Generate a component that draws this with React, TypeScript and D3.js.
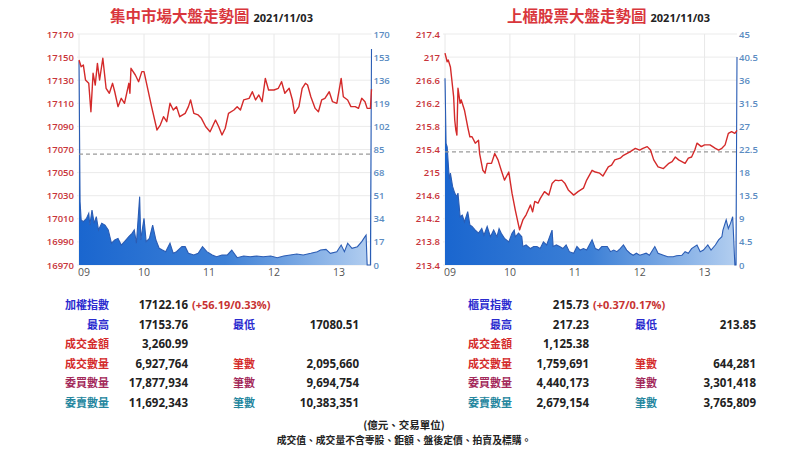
import React from 'react';
import * as d3 from 'd3';

// ---------- shared ----------
const timeTicks = [0, 60, 120, 180, 240];
const timeTickLabels = ['09', '10', '11', '12', '13'];

// ---------- TWSE (集中市場) ----------
const twsePriceMin = [0,2,4,6,9,11,13,15,17,19,22,25,28,31,33,36,39,42,46,47,48,52,55,58,60,63,67,72,75,78,81,84,87,90,93,98,101,103,106,110,113,117,121,126,129,132,135,138,143,146,149,152,157,160,163,166,169,172,175,180,184,187,190,194,197,199,203,206,209,211,214,218,221,224,227,231,234,238,242,244,248,251,255,258,261,264,266,269,270];
const twsePrice = [17147.5,17141.7,17143.2,17130.2,17127.3,17102.7,17136.0,17125.8,17144.6,17130.2,17149.0,17123.0,17118.7,17127.3,17120.0,17107.1,17114.3,17110.0,17127.3,17118.7,17140.3,17134.5,17128.7,17137.4,17137.4,17124.4,17107.1,17086.9,17091.2,17098.4,17094.1,17110.0,17104.2,17107.1,17098.4,17101.3,17107.1,17112.9,17101.3,17099.9,17097.0,17089.7,17085.4,17095.5,17089.7,17082.6,17088.4,17101.3,17104.2,17107.1,17104.2,17112.9,17114.3,17120.0,17112.9,17117.2,17111.4,17131.6,17121.5,17121.5,17123.0,17128.7,17118.7,17123.0,17112.9,17101.3,17107.1,17123.0,17127.3,17125.8,17115.7,17105.6,17102.7,17112.9,17114.3,17120.0,17111.4,17110.0,17131.6,17115.7,17112.9,17107.1,17107.1,17105.6,17114.3,17111.4,17105.6,17105.6,17122.2];
const twseVolMin = [0,1,2,4,7,9,10,12,14,16,18,21,24,27,30,33,36,39,42,46,49,51,53,56,57,60,62,65,68,71,74,77,80,84,87,90,95,98,101,106,110,114,118,123,127,132,137,141,146,152,158,164,170,177,183,189,195,201,207,214,220,223,228,232,238,242,245,248,252,257,261,264,265,266,269,270];
const twseVol = [150,46.6,33.1,31.9,34.4,38.0,29.4,40.5,30.7,35.6,25.8,30.7,29.4,25.8,16.0,18.4,19.6,14.7,17.2,20.9,23.3,25.8,16.0,50.3,18.4,34.4,17.2,19.6,29.4,18.4,12.3,11.0,9.8,16.0,8.6,9.8,13.5,13.5,8.6,7.4,8.6,13.5,9.8,7.4,6.1,7.4,7.4,11.0,5.4,6.6,6.1,6.6,6.1,6.6,5.4,6.6,7.4,8.1,7.4,8.6,9.8,11.0,11.5,8.6,9.8,14.7,9.8,16.0,12.3,13.5,17.2,20.9,22.0,0,0,159];
const twsePriceTicks = [16970,16990,17010,17030,17050,17070,17090,17110,17130,17150,17170];
const twseVolTicks = [0,17,34,51,68,85,102,119,136,153,170];
const twsePrevClose = 17065.97;

// ---------- TPEx (上櫃) ----------
const tpexPriceMin = [0,2,3,5,6,8,9,10,11,12,14,15,17,18,21,23,25,28,31,32,35,37,39,43,46,49,52,55,59,62,65,68,69,72,75,79,81,83,86,88,92,96,99,102,105,108,111,114,119,123,128,131,136,139,143,146,151,154,157,162,165,168,171,176,180,183,187,190,193,197,202,207,210,213,216,219,222,225,228,231,233,237,240,245,250,253,256,259,262,265,268,270];
const tpexPrice = [217.07,216.92,216.95,216.83,216.66,216.31,215.91,215.74,215.65,216.46,216.20,216.26,216.14,216.08,215.79,215.62,215.62,215.51,215.56,215.33,215.04,214.99,215.16,215.16,215.33,215.22,215.04,214.87,215.01,214.64,214.35,214.09,214.01,214.18,214.27,214.44,214.32,214.50,214.47,214.55,214.67,214.61,214.81,214.87,214.86,214.87,214.81,214.70,214.61,214.67,214.73,214.87,215.04,215.01,214.99,214.94,215.10,215.13,215.22,215.25,215.30,215.33,215.36,215.42,215.39,215.42,215.45,215.39,215.22,215.10,215.07,215.16,215.19,215.27,215.22,215.19,215.16,215.25,215.27,215.39,215.51,215.45,215.48,215.48,215.42,215.39,215.42,215.48,215.68,215.71,215.68,215.73];
const tpexVolMin = [0,1,2,4,5,7,9,11,12,14,16,18,21,23,25,28,31,34,36,39,42,45,48,50,52,55,59,62,64,65,68,71,72,75,79,82,85,88,91,94,99,100,103,106,109,112,115,119,122,125,128,131,136,139,142,145,150,153,156,159,162,165,168,171,174,177,180,183,186,189,194,197,202,206,211,214,219,222,225,228,233,236,239,243,246,250,253,256,257,260,262,264,266,267,268,269,270];
const tpexVol = [36.4,23.7,23.0,16.6,17.9,15.3,14.0,13.3,14.0,9.4,9.7,8.4,10.4,7.8,7.5,6.8,6.2,7.1,5.8,7.5,5.5,6.8,5.5,7.1,6.2,5.2,4.5,6.2,6.8,5.5,6.2,5.5,3.6,3.9,3.2,3.6,3.6,3.2,4.5,3.9,6.8,3.6,3.9,3.6,3.2,3.9,2.6,2.3,3.6,2.9,3.2,2.9,4.9,3.2,2.9,3.6,3.6,2.6,2.9,2.6,3.2,3.9,2.9,2.3,1.9,2.3,1.9,2.1,2.3,1.9,3.6,2.3,1.9,1.6,1.6,1.8,1.9,2.6,2.3,3.2,3.9,2.6,2.9,3.9,2.9,3.9,4.9,5.5,6.8,8.8,7.1,8.1,9.4,4.9,0,0,40.5];
const tpexPriceTicks = [213.4,213.8,214.2,214.6,215,215.4,215.8,216.2,216.6,217,217.4];
const tpexVolTicks = [0,4.5,9,13.5,18,22.5,27,31.5,36,40.5,45];
const tpexPrevClose = 215.36;

// ---------- tables ----------
const twseLabels1 = ['加權指數', '最高', '成交金額', '成交數量', '委買數量', '委賣數量'];
const twseValues1 = ['17122.16', '17153.76', '3,260.99', '6,927,764', '17,877,934', '11,692,343'];
const twseLabels2 = ['', '最低', '', '筆數', '筆數', '筆數'];
const twseValues2 = ['', '17080.51', '', '2,095,660', '9,694,754', '10,383,351'];
const twseChange = '(+56.19/0.33%)';

const tpexLabels1 = ['櫃買指數', '最高', '成交金額', '成交數量', '委買數量', '委賣數量'];
const tpexValues1 = ['215.73', '217.23', '1,125.38', '1,759,691', '4,440,173', '2,679,154'];
const tpexLabels2 = ['', '最低', '', '筆數', '筆數', '筆數'];
const tpexValues2 = ['', '213.85', '', '644,281', '3,301,418', '3,765,809'];
const tpexChange = '(+0.37/0.17%)';

const footerLines = ['(億元、交易單位)', '成交值、成交量不含零股、鉅額、盤後定價、拍賣及標購。'];

const FONT = '"Noto Sans CJK TC", "Noto Sans", sans-serif';
const RED = '#d42a2a';
const AXIS_RED = '#c8343a';
const AXIS_BLUE = '#5b8cc2';
const rowColors = ['#2b2bcf', '#2b2bcf', '#d42a2a', '#d42a2a', '#a3285a', '#23869e'];

const fmtTick = (v: number) => String(v);

type PanelProps = {
  id: string;
  x0: number; x1: number;
  title: string; titleX: number;
  priceMin: number[]; price: number[];
  volMin: number[]; vol: number[];
  priceTicks: number[]; volTicks: number[];
  prevClose: number;
};

function Panel(p: PanelProps) {
  const yTop = 34, yBot = 265;
  const x = d3.scaleLinear().domain([0, 270]).range([p.x0, p.x1]);
  const yP = d3.scaleLinear().domain([p.priceTicks[0], p.priceTicks[p.priceTicks.length - 1]]).range([yBot, yTop]);
  const yV = d3.scaleLinear().domain([p.volTicks[0], p.volTicks[p.volTicks.length - 1]]).range([yBot, yTop]);

  const priceData = p.price.map((v, i) => [p.priceMin[i], v] as [number, number]);
  const volData = p.vol.map((v, i) => [p.volMin[i], v] as [number, number]);

  const line = d3.line<[number, number]>().x(d => x(d[0])).y(d => yP(d[1]));
  const vLine = d3.line<[number, number]>().x(d => x(d[0])).y(d => yV(d[1]));
  const vArea = d3.area<[number, number]>().x(d => x(d[0])).y0(yBot).y1(d => yV(d[1]));

  return (
    <g>
      <defs>
        <linearGradient id={p.id + 'g'} x1={p.x0} x2={p.x1} y1={0} y2={0} gradientUnits="userSpaceOnUse">
          <stop offset="0" stopColor="#1a66cf" />
          <stop offset="0.5" stopColor="#3d80d6" />
          <stop offset="1" stopColor="#b4cff0" />
        </linearGradient>
      </defs>
      {/* title */}
      <text x={p.titleX} y={22} fontFamily={FONT} fontSize={15.5} fontWeight={700} fill="#d9363c">
        {p.title}
        <tspan dx={4} fontSize={11} fill="#222" fontFamily='"Open Sans", "Noto Sans", sans-serif'>2021/11/03</tspan>
      </text>
      {/* gridlines */}
      {p.priceTicks.map(t => (
        <line key={'h' + t} x1={p.x0 - 2} x2={p.x1} y1={yP(t)} y2={yP(t)} stroke="#ebebeb" strokeWidth={1} />
      ))}
      {[0, ...timeTicks.slice(1)].map(t => (
        <line key={'v' + t} x1={x(t)} x2={x(t)} y1={yTop} y2={yBot} stroke="#e8e8e8" strokeWidth={1} />
      ))}
      {/* volume */}
      <path d={vArea(volData) || ''} fill={`url(#${p.id}g)`} />
      <path d={vLine(volData) || ''} fill="none" stroke="#2a5cb4" strokeWidth={1.1} />
      {/* prev close */}
      <line x1={p.x0} x2={p.x1} y1={yP(p.prevClose)} y2={yP(p.prevClose)} stroke="#9a9a9a" strokeWidth={1.2} strokeDasharray="4,3" />
      {/* price */}
      <path d={line(priceData) || ''} fill="none" stroke={RED} strokeWidth={1.4} strokeLinejoin="round" />
      {/* left axis labels */}
      {p.priceTicks.map(t => (
        <text key={'lp' + t} x={p.x0 - 5} y={yP(t) + 3.5} textAnchor="end" fontFamily='"Open Sans", sans-serif' fontSize={9.5} fontWeight={600} fill={AXIS_RED}>{fmtTick(t)}</text>
      ))}
      {/* right axis labels */}
      {p.volTicks.map(t => (
        <text key={'rv' + t} x={p.x1 + 2} y={yV(t) + 3.5} fontFamily='"Open Sans", sans-serif' fontSize={9.5} fontWeight={600} fill={AXIS_BLUE}>{fmtTick(t)}</text>
      ))}
      {/* x labels */}
      {timeTicks.map((t, i) => (
        <text key={'x' + t} x={i === 0 ? x(t) + 5 : x(t)} y={276} textAnchor="middle" fontFamily='"Open Sans", sans-serif' fontSize={10.5} fill="#555">{timeTickLabels[i]}</text>
      ))}
    </g>
  );
}

type TableProps = {
  labels1: string[]; values1: string[]; labels2: string[]; values2: string[]; change: string;
  l1: number; v1: number; c: number; l2: number; v2: number;
};

const rowY = [305, 324.5, 344, 363.5, 383, 402.5];

function Table(t: TableProps) {
  return (
    <g fontFamily={FONT} fontWeight={700}>
      {t.labels1.map((lab, i) => (
        <g key={i}>
          <text x={t.l1} y={rowY[i] + 4} textAnchor="end" fontSize={11} fill={rowColors[i]}>{lab}</text>
          <text x={t.v1} y={rowY[i] + 4} textAnchor="end" fontSize={11.5} fill="#222" fontFamily='"Open Sans", sans-serif'>{t.values1[i]}</text>
          {t.labels2[i] && <text x={t.l2} y={rowY[i] + 4} textAnchor="end" fontSize={11} fill={rowColors[i]}>{t.labels2[i]}</text>}
          {t.values2[i] && <text x={t.v2} y={rowY[i] + 4} textAnchor="end" fontSize={11.5} fill="#222" fontFamily='"Open Sans", sans-serif'>{t.values2[i]}</text>}
        </g>
      ))}
      <text x={t.c} y={rowY[0] + 4} fontSize={11} fill="#c83232" fontFamily='"Open Sans", sans-serif'>{t.change}</text>
    </g>
  );
}

export default function App() {
  return (
    <svg width={810} height={455} style={{ position: 'absolute', left: 0, top: 0, background: '#fff' }}>
      <rect width={810} height={455} fill="#fff" />
      <Panel id="twse" x0={79} x1={371.5} title="集中市場大盤走勢圖" titleX={110}
        priceMin={twsePriceMin} price={twsePrice} volMin={twseVolMin} vol={twseVol}
        priceTicks={twsePriceTicks} volTicks={twseVolTicks} prevClose={twsePrevClose} />
      <Panel id="tpex" x0={445} x1={737} title="上櫃股票大盤走勢圖" titleX={507}
        priceMin={tpexPriceMin} price={tpexPrice} volMin={tpexVolMin} vol={tpexVol}
        priceTicks={tpexPriceTicks} volTicks={tpexVolTicks} prevClose={tpexPrevClose} />
      <Table labels1={twseLabels1} values1={twseValues1} labels2={twseLabels2} values2={twseValues2} change={twseChange}
        l1={109} v1={188} c={192} l2={255} v2={359} />
      <Table labels1={tpexLabels1} values1={tpexValues1} labels2={tpexLabels2} values2={tpexValues2} change={tpexChange}
        l1={512} v1={589} c={593} l2={657} v2={756} />
      {footerLines.map((s, i) => (
        <text key={i} x={404} y={429 + i * 15} textAnchor="middle" fontFamily={FONT} fontWeight={700} fontSize={i === 0 ? 10.5 : 9.8} fill="#222">{s}</text>
      ))}
    </svg>
  );
}
